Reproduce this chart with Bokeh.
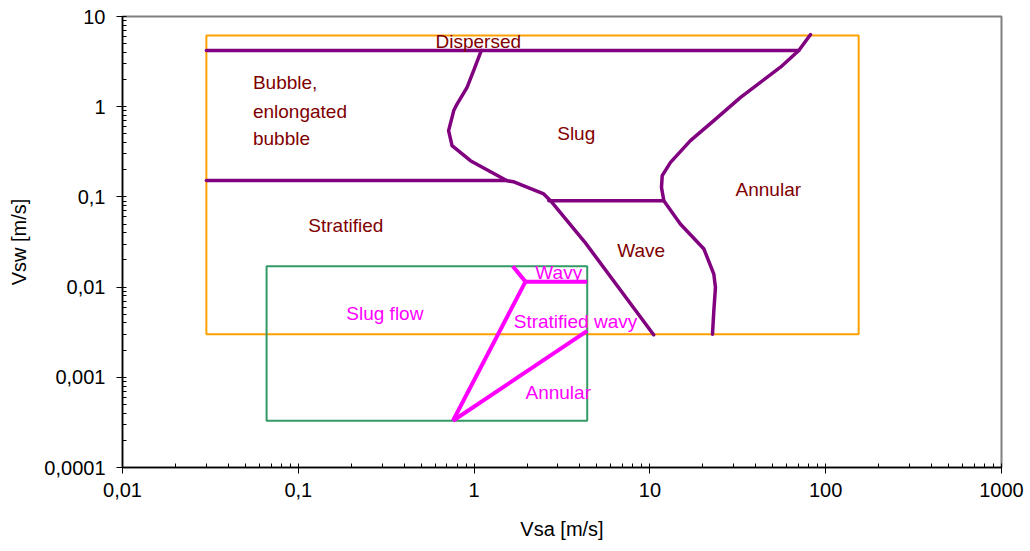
from bokeh.plotting import figure
from bokeh.models import FixedTicker, Range1d
from bokeh.core.properties import value
from bokeh.embed import file_html
from bokeh.resources import INLINE

# ---- flow-regime map data (superficial velocities, m/s) ----
# outer (orange) and inner (green) validity boxes: [x_min, x_max, y_min, y_max]
orange_box = [0.03, 154.0, 0.0030, 6.15]
green_box = [0.066, 4.4, 0.00033, 0.017]

# purple boundaries
dispersed_x = [0.03, 70.3]
dispersed_y = [4.2, 4.2]

stratified_x = [0.03, 1.54]
stratified_y = [0.152, 0.152]

wave_x = [2.66, 12.0]
wave_y = [0.0908, 0.0908]

slug_left_x = [1.10, 0.995, 0.912, 0.80, 0.766, 0.716, 0.749, 0.953, 1.54, 1.67, 2.49, 2.72, 4.25, 10.5]
slug_left_y = [4.20, 2.52, 1.64, 1.07, 0.906, 0.543, 0.370, 0.252, 0.151, 0.1476, 0.1077, 0.0908, 0.0318, 0.00296]

annular_x = [82.0, 70.3, 55.3, 32.8, 23.1, 17.0, 13.1, 11.75, 11.64, 12.0, 14.9, 20.3, 23.1, 23.6, 23.1, 22.7]
annular_y = [6.31, 4.20, 2.74, 1.27, 0.701, 0.421, 0.2415, 0.172, 0.1273, 0.0908, 0.0500, 0.0264, 0.01393, 0.0099, 0.00546, 0.0030]

# magenta boundaries
wavy_tick_x = [1.66, 1.96]
wavy_tick_y = [0.017, 0.0115]
wavy_x = [1.96, 4.4]
wavy_y = [0.0115, 0.0115]
slugflow_x = [1.96, 0.758]
slugflow_y = [0.0115, 0.00033]
annular_in_x = [0.758, 4.4]
annular_in_y = [0.00033, 0.00327]

# region labels
dark_labels = ["Dispersed", "Bubble,", "enlongated", "bubble", "Slug", "Annular", "Stratified", "Wave"]
dark_x = [0.603, 0.0552, 0.0552, 0.0552, 2.97, 30.7, 0.114, 6.52]
dark_y = [5.27, 1.85, 0.889, 0.443, 0.504, 0.120, 0.0480, 0.0255]

pink_labels = ["Wavy", "Stratified wavy", "Annular", "Slug flow"]
pink_x = [2.23, 1.68, 1.96, 0.1875]
pink_y = [0.01441, 0.00415, 0.000683, 0.00506]

# axis ticks
x_ticks = [0.01, 0.1, 1, 10, 100, 1000]
x_tick_labels = ["0,01", "0,1", "1", "10", "100", "1000"]
y_ticks = [0.0001, 0.001, 0.01, 0.1, 1, 10]
y_tick_labels = ["0,0001", "0,001", "0,01", "0,1", "1", "10"]

FONT = "Liberation Sans"
PURPLE = "#800080"
MAGENTA = "#FF00FF"
ORANGE = "#FFA000"
GREEN = "#339966"
DARKRED = "#800000"

p = figure(width=1030, height=551, x_axis_type="log", y_axis_type="log",
           x_range=Range1d(0.01, 1000), y_range=Range1d(0.0001, 10),
           output_backend="svg", toolbar_location=None,
           min_border_left=122, min_border_right=29,
           min_border_top=16, min_border_bottom=84)
p.background_fill_color = "white"
p.border_fill_color = "white"
p.outline_line_color = "#808080"
p.outline_line_width = 2
p.xgrid.visible = False
p.ygrid.visible = False


def minor(ticks):
    out = []
    for t in ticks[:-1]:
        out += [k * t for k in range(2, 10)]
    return out


p.xaxis.ticker = FixedTicker(ticks=x_ticks, minor_ticks=minor(x_ticks))
p.yaxis.ticker = FixedTicker(ticks=y_ticks, minor_ticks=minor(y_ticks))
p.xaxis.major_label_overrides = {t: s for t, s in zip(x_ticks, x_tick_labels)}
p.yaxis.major_label_overrides = {t: s for t, s in zip(y_ticks, y_tick_labels)}

for ax in (p.xaxis, p.yaxis):
    ax.axis_line_color = "black"
    ax.axis_line_width = 1.5
    ax.major_tick_line_color = "black"
    ax.minor_tick_line_color = "black"
    ax.major_tick_in = 4
    ax.major_tick_out = 6
    ax.minor_tick_in = 4
    ax.minor_tick_out = 0
    ax.major_label_text_font = FONT
    ax.major_label_text_font_size = "20px"
    ax.major_label_text_color = "black"
    ax.axis_label_text_font = FONT
    ax.axis_label_text_font_size = "20px"
    ax.axis_label_text_font_style = "normal"
    ax.axis_label_text_color = "black"

p.xaxis.axis_label = "Vsa [m/s]"
p.yaxis.axis_label = "Vsw [m/s]"
p.xaxis.major_label_standoff = 9
p.xaxis.axis_label_standoff = 18
p.yaxis.major_label_standoff = 11
p.yaxis.axis_label_standoff = 11

# validity boxes
for box, col in ((orange_box, ORANGE), (green_box, GREEN)):
    p.quad(left=[box[0]], right=[box[1]], bottom=[box[2]], top=[box[3]],
           fill_color=None, line_color=col, line_width=2)

# regime boundaries
for xs, ys in ((dispersed_x, dispersed_y), (stratified_x, stratified_y),
               (wave_x, wave_y), (slug_left_x, slug_left_y),
               (annular_x, annular_y)):
    p.line(xs, ys, line_color=PURPLE, line_width=3.5, line_join="round", line_cap="round")

for xs, ys in ((wavy_tick_x, wavy_tick_y), (wavy_x, wavy_y),
               (slugflow_x, slugflow_y), (annular_in_x, annular_in_y)):
    p.line(xs, ys, line_color=MAGENTA, line_width=4, line_join="round")

p.text(x=dark_x, y=dark_y, text=dark_labels, text_font=value(FONT),
       text_font_size="19px", text_color=DARKRED,
       text_align="left", text_baseline="alphabetic")
p.text(x=pink_x, y=pink_y, text=pink_labels, text_font=value(FONT),
       text_font_size="19px", text_color=MAGENTA,
       text_align="left", text_baseline="alphabetic")

open("out.html", "w").write(file_html(p, INLINE))
